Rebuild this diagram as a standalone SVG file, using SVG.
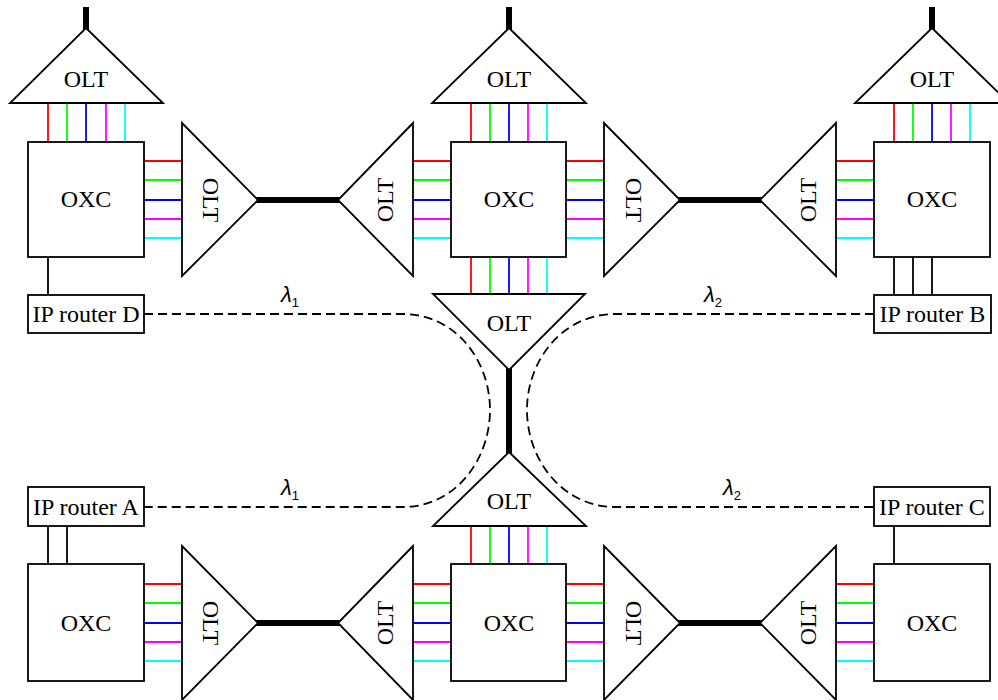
<svg xmlns="http://www.w3.org/2000/svg" width="998" height="700" viewBox="0 0 998 700">
<style>
.box{fill:#fff;stroke:#000;stroke-width:1.8}
.tri{fill:#fff;stroke:#000;stroke-width:1.8;stroke-linejoin:miter}
.t{font-family:"Liberation Serif","Times New Roman",serif;font-size:24px;fill:#000;text-anchor:middle}
.thick{stroke:#000;stroke-width:6;fill:none}
.w{stroke:#000;stroke-width:1.8;fill:none}
.r{stroke:#ff0000;stroke-width:1.8}
.g{stroke:#00ff00;stroke-width:1.8}
.b{stroke:#0000ff;stroke-width:1.8}
.m{stroke:#ff00ff;stroke-width:1.8}
.c{stroke:#00ffff;stroke-width:1.8}
.dash{stroke:#000;stroke-width:1.8;fill:none;stroke-dasharray:9,5}
.lam{font-family:"Liberation Sans","DejaVu Sans",sans-serif;font-style:italic;font-size:22px;fill:#000}
.sub{font-style:normal;font-size:13px}
</style>
<rect width="998" height="700" fill="#fff"/>
<g id="connectors">
  <line class="thick" x1="86" y1="7" x2="86" y2="30"/>
  <line class="thick" x1="509" y1="7" x2="509" y2="30"/>
  <line class="thick" x1="932" y1="7" x2="932" y2="30"/>
  <line class="thick" x1="256" y1="200" x2="340" y2="200"/>
  <line class="thick" x1="678" y1="200" x2="762" y2="200"/>
  <line class="thick" x1="256" y1="623" x2="340" y2="623"/>
  <line class="thick" x1="678" y1="623" x2="762" y2="623"/>
  <line class="thick" x1="509" y1="368" x2="509" y2="454"/>
  <g>
    <line class="r" x1="48" y1="103" x2="48" y2="142"/><line class="g" x1="67" y1="103" x2="67" y2="142"/><line class="b" x1="86" y1="103" x2="86" y2="142"/><line class="m" x1="106" y1="103" x2="106" y2="142"/><line class="c" x1="125" y1="103" x2="125" y2="142"/>
    <line class="r" x1="471" y1="103" x2="471" y2="142"/><line class="g" x1="490" y1="103" x2="490" y2="142"/><line class="b" x1="509" y1="103" x2="509" y2="142"/><line class="m" x1="528" y1="103" x2="528" y2="142"/><line class="c" x1="547" y1="103" x2="547" y2="142"/>
    <line class="r" x1="894" y1="103" x2="894" y2="142"/><line class="g" x1="913" y1="103" x2="913" y2="142"/><line class="b" x1="932" y1="103" x2="932" y2="142"/><line class="m" x1="951" y1="103" x2="951" y2="142"/><line class="c" x1="970" y1="103" x2="970" y2="142"/>
    <line class="r" x1="471" y1="257" x2="471" y2="294"/><line class="g" x1="490" y1="257" x2="490" y2="294"/><line class="b" x1="509" y1="257" x2="509" y2="294"/><line class="m" x1="528" y1="257" x2="528" y2="294"/><line class="c" x1="547" y1="257" x2="547" y2="294"/>
    <line class="r" x1="471" y1="526" x2="471" y2="564"/><line class="g" x1="490" y1="526" x2="490" y2="564"/><line class="b" x1="509" y1="526" x2="509" y2="564"/><line class="m" x1="528" y1="526" x2="528" y2="564"/><line class="c" x1="547" y1="526" x2="547" y2="564"/>
  </g>
  <g>
    <line class="r" x1="144" y1="161" x2="182" y2="161"/><line class="g" x1="144" y1="180" x2="182" y2="180"/><line class="b" x1="144" y1="200" x2="182" y2="200"/><line class="m" x1="144" y1="219" x2="182" y2="219"/><line class="c" x1="144" y1="238" x2="182" y2="238"/>
    <line class="r" x1="413" y1="161" x2="451" y2="161"/><line class="g" x1="413" y1="180" x2="451" y2="180"/><line class="b" x1="413" y1="200" x2="451" y2="200"/><line class="m" x1="413" y1="219" x2="451" y2="219"/><line class="c" x1="413" y1="238" x2="451" y2="238"/>
    <line class="r" x1="566" y1="161" x2="604" y2="161"/><line class="g" x1="566" y1="180" x2="604" y2="180"/><line class="b" x1="566" y1="200" x2="604" y2="200"/><line class="m" x1="566" y1="219" x2="604" y2="219"/><line class="c" x1="566" y1="238" x2="604" y2="238"/>
    <line class="r" x1="836" y1="161" x2="874" y2="161"/><line class="g" x1="836" y1="180" x2="874" y2="180"/><line class="b" x1="836" y1="200" x2="874" y2="200"/><line class="m" x1="836" y1="219" x2="874" y2="219"/><line class="c" x1="836" y1="238" x2="874" y2="238"/>
  </g>
  <g>
    <line class="r" x1="144" y1="584" x2="182" y2="584"/><line class="g" x1="144" y1="603" x2="182" y2="603"/><line class="b" x1="144" y1="623" x2="182" y2="623"/><line class="m" x1="144" y1="642" x2="182" y2="642"/><line class="c" x1="144" y1="661" x2="182" y2="661"/>
    <line class="r" x1="413" y1="584" x2="451" y2="584"/><line class="g" x1="413" y1="603" x2="451" y2="603"/><line class="b" x1="413" y1="623" x2="451" y2="623"/><line class="m" x1="413" y1="642" x2="451" y2="642"/><line class="c" x1="413" y1="661" x2="451" y2="661"/>
    <line class="r" x1="566" y1="584" x2="604" y2="584"/><line class="g" x1="566" y1="603" x2="604" y2="603"/><line class="b" x1="566" y1="623" x2="604" y2="623"/><line class="m" x1="566" y1="642" x2="604" y2="642"/><line class="c" x1="566" y1="661" x2="604" y2="661"/>
    <line class="r" x1="836" y1="584" x2="874" y2="584"/><line class="g" x1="836" y1="603" x2="874" y2="603"/><line class="b" x1="836" y1="623" x2="874" y2="623"/><line class="m" x1="836" y1="642" x2="874" y2="642"/><line class="c" x1="836" y1="661" x2="874" y2="661"/>
  </g>
  <line class="w" x1="48" y1="257" x2="48" y2="295"/>
  <line class="w" x1="894" y1="257" x2="894" y2="295"/>
  <line class="w" x1="913" y1="257" x2="913" y2="295"/>
  <line class="w" x1="932" y1="257" x2="932" y2="295"/>
  <line class="w" x1="48" y1="526" x2="48" y2="564"/>
  <line class="w" x1="67" y1="526" x2="67" y2="564"/>
  <line class="w" x1="894" y1="526" x2="894" y2="564"/>
  <path class="dash" d="M144,314 H403 C455,314 490,360 490,410 C490,460 455,507 403,507 H144"/>
  <path class="dash" d="M874,314 H615 C563,314 527,360 527,410 C527,460 563,507 615,507 H874"/>
  <text class="lam" x="281" y="302">λ<tspan class="sub" dy="5">1</tspan></text>
  <text class="lam" x="704" y="302">λ<tspan class="sub" dy="5">2</tspan></text>
  <text class="lam" x="281" y="495">λ<tspan class="sub" dy="5">1</tspan></text>
  <text class="lam" x="723" y="495">λ<tspan class="sub" dy="5">2</tspan></text>
</g>
<g id="olt-top-left"><polygon class="tri" points="86,28 163,103 10,103"/><text class="t" x="86" y="87">OLT</text></g>
<g id="olt-top-center"><polygon class="tri" points="509,28 586,103 432,103"/><text class="t" x="509" y="87">OLT</text></g>
<g id="olt-top-right"><polygon class="tri" points="932,28 1009,103 855,103"/><text class="t" x="932" y="87">OLT</text></g>
<g id="olt-r1-a"><polygon class="tri" points="182,123 258,200 182,276"/><text class="t" transform="translate(211,200) rotate(90)" y="8">OLT</text></g>
<g id="olt-r1-b"><polygon class="tri" points="413,123 338,200 413,276"/><text class="t" transform="translate(385,200) rotate(-90)" y="8">OLT</text></g>
<g id="olt-r1-c"><polygon class="tri" points="604,123 680,200 604,276"/><text class="t" transform="translate(634,200) rotate(90)" y="8">OLT</text></g>
<g id="olt-r1-d"><polygon class="tri" points="836,123 760,200 836,276"/><text class="t" transform="translate(808,200) rotate(-90)" y="8">OLT</text></g>
<g id="olt-mid-down"><polygon class="tri" points="433,294 585,294 509,370"/><text class="t" x="509" y="331">OLT</text></g>
<g id="olt-mid-up"><polygon class="tri" points="509,452 586,526 433,526"/><text class="t" x="509" y="509">OLT</text></g>
<g id="olt-r2-a"><polygon class="tri" points="182,546 258,623 182,700"/><text class="t" transform="translate(211,623) rotate(90)" y="8">OLT</text></g>
<g id="olt-r2-b"><polygon class="tri" points="413,546 338,623 413,700"/><text class="t" transform="translate(385,623) rotate(-90)" y="8">OLT</text></g>
<g id="olt-r2-c"><polygon class="tri" points="604,546 680,623 604,700"/><text class="t" transform="translate(634,623) rotate(90)" y="8">OLT</text></g>
<g id="olt-r2-d"><polygon class="tri" points="836,546 760,623 836,700"/><text class="t" transform="translate(808,623) rotate(-90)" y="8">OLT</text></g>
<g id="oxc-r1-left"><rect class="box" x="28" y="142" width="116" height="115"/><text class="t" x="86" y="207">OXC</text></g>
<g id="oxc-r1-center"><rect class="box" x="451" y="142" width="115" height="115"/><text class="t" x="509" y="207">OXC</text></g>
<g id="oxc-r1-right"><rect class="box" x="874" y="142" width="116" height="115"/><text class="t" x="932" y="207">OXC</text></g>
<g id="oxc-r2-left"><rect class="box" x="28" y="564" width="116" height="117"/><text class="t" x="86" y="631">OXC</text></g>
<g id="oxc-r2-center"><rect class="box" x="451" y="564" width="115" height="117"/><text class="t" x="509" y="631">OXC</text></g>
<g id="oxc-r2-right"><rect class="box" x="874" y="564" width="116" height="117"/><text class="t" x="932" y="631">OXC</text></g>
<g id="router-d"><rect class="box" x="28" y="295" width="116" height="38"/><text class="t" x="86" y="322">IP router D</text></g>
<g id="router-b"><rect class="box" x="874" y="295" width="117" height="38"/><text class="t" x="932.5" y="322">IP router B</text></g>
<g id="router-a"><rect class="box" x="28" y="487" width="116" height="39"/><text class="t" x="86" y="515">IP router A</text></g>
<g id="router-c"><rect class="box" x="874" y="487" width="116" height="39"/><text class="t" x="932" y="515">IP router C</text></g>
</svg>
